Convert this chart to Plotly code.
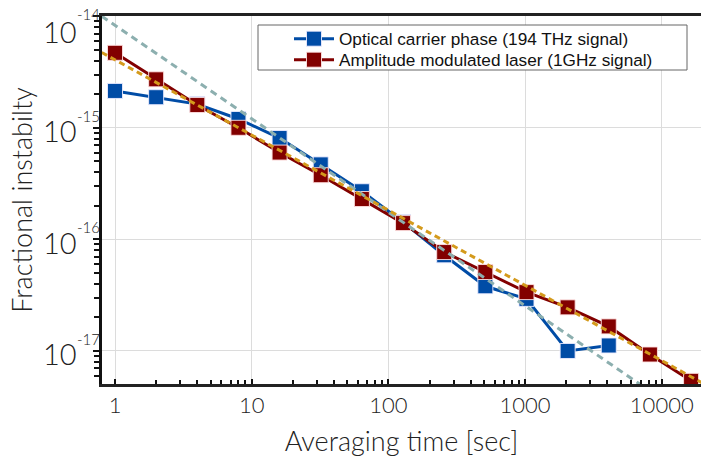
import plotly.graph_objects as go

# ---- data ----
tau_red = [1, 2, 4, 8, 16, 32, 64, 128, 256, 512, 1024, 2048, 4096, 8192, 16384]
adev_red = [4.7e-15, 2.72e-15, 1.6e-15, 1.0e-15, 6.0e-16, 3.76e-16, 2.3e-16, 1.4e-16,
            7.7e-17, 5.1e-17, 3.37e-17, 2.46e-17, 1.66e-17, 9.3e-18, 5.4e-18]
tau_blue = [1, 2, 4, 8, 16, 32, 64, 128, 256, 512, 1024, 2048, 4096]
adev_blue = [2.14e-15, 1.88e-15, 1.63e-15, 1.2e-15, 8.1e-16, 4.7e-16, 2.7e-16, 1.43e-16,
             7.2e-17, 3.8e-17, 2.93e-17, 1.0e-17, 1.12e-17]
teal_x = [0.8, 10000]
teal_y = [1.0e-14, 3.7e-18]
orange_x = [0.8, 20000]
orange_y = [4.73e-15, 5.14e-18]

name_blue = "Optical carrier phase (194 THz signal)"
name_red = "Amplitude modulated laser (1GHz signal)"

x_tickvals = [1, 10, 100, 1000, 10000]
x_ticktext = ["1", "10", "100", "1000", "10000"]
y_exps = [-17, -16, -15, -14]
y_tickvals = [10.0 ** e for e in y_exps]
y_base_text = "10"
y_exp_text = [str(e) for e in y_exps]

x_minor = [m * 10 ** d for d in range(0, 5) for m in range(2, 10)]
y_minor = [m * 10.0 ** d for d in range(-18, -14) for m in range(2, 10)]

BLUE = "#004ca6"
RED = "#820000"
TEAL = "#8cafaf"
ORANGE = "#d49a1c"
FONT = "Lato"
TXT = "#222222"

W, H = 701, 457
L, T, B, R = 102, 16, 73, 0

fig = go.Figure()
fig.add_trace(go.Scatter(
    x=tau_blue, y=adev_blue, name=name_blue, mode="lines+markers", legend="legend",
    line=dict(color=BLUE, width=3),
    marker=dict(symbol="square", size=15, color=BLUE,
                line=dict(color="rgba(235,235,255,0.9)", width=1))))
fig.add_trace(go.Scatter(
    x=tau_red, y=adev_red, name=name_red, mode="lines+markers", legend="legend2",
    line=dict(color=RED, width=3),
    marker=dict(symbol="square", size=15, color=RED,
                line=dict(color="rgba(255,225,225,0.9)", width=1))))
fig.add_trace(go.Scatter(
    x=teal_x, y=teal_y, mode="lines", showlegend=False, hoverinfo="skip",
    line=dict(color=TEAL, width=3, dash="7px,5px")))
fig.add_trace(go.Scatter(
    x=orange_x, y=orange_y, mode="lines", showlegend=False, hoverinfo="skip",
    line=dict(color=ORANGE, width=3, dash="6px,4px")))

pw, ph = W - L - R, H - T - B
def px2paper_x(px):
    return (px - L) / pw
def px2paper_y(py):
    return (H - B - py) / ph

fig.add_shape(type="rect", xref="paper", yref="paper",
              x0=px2paper_x(258), x1=px2paper_x(687),
              y0=px2paper_y(70), y1=px2paper_y(25),
              line=dict(color="#666666", width=1), fillcolor="white", layer="above")

# y tick labels "10" with a small raised exponent (the top one sits lower, as in the reference)
for e, et in zip(y_exps, y_exp_text):
    base_shift, exp_shift = (-15, 2) if e == -14 else (-3, 12)
    fig.add_annotation(xref="paper", yref="y", x=0, y=e, xanchor="right", yanchor="middle",
                       xshift=-24, yshift=base_shift, showarrow=False, text=y_base_text,
                       borderpad=0, font=dict(family=FONT, size=29, color=TXT, weight=300))
    fig.add_annotation(xref="paper", yref="y", x=0, y=e, xanchor="left", yanchor="middle",
                       xshift=-26, yshift=exp_shift, showarrow=False, text=et,
                       borderpad=0, font=dict(family=FONT, size=15, color=TXT, weight=300))

leg_common = dict(xanchor="left", yanchor="middle", bgcolor="rgba(0,0,0,0)", borderwidth=0,
                  font=dict(family="Liberation Sans, Arial", size=17.2, color="#111111",
                            weight="normal"),
                  itemwidth=40)

fig.update_layout(
    width=W, height=H,
    margin=dict(l=L, r=R, t=T, b=B, pad=0, autoexpand=False),
    paper_bgcolor="white", plot_bgcolor="white",
    font=dict(family=FONT, color=TXT, weight=300),
    legend=dict(x=px2paper_x(289), y=px2paper_y(39), **leg_common),
    legend2=dict(x=px2paper_x(289), y=px2paper_y(60), **leg_common),
    showlegend=True,
)

fig.update_xaxes(
    type="log", range=[-0.0951, 4.287], automargin=False,
    tickmode="array", tickvals=x_tickvals, ticktext=x_ticktext,
    tickfont=dict(family=FONT, size=22, color=TXT, weight=300),
    ticks="inside", ticklen=5, tickwidth=1.5, tickcolor="#111111",
    minor=dict(tickmode="array", tickvals=x_minor, ticks="inside", ticklen=4,
               tickwidth=1.5, tickcolor="#111111", showgrid=False),
    showgrid=True, gridcolor="#dcdcdc", gridwidth=1,
    showline=True, linecolor="#222222", linewidth=2.5, mirror=True,
    zeroline=False,
    title=dict(text="Averaging time [sec]",
               font=dict(family=FONT, size=27, color=TXT, weight=300),
               standoff=28),
)
fig.update_yaxes(
    type="log", range=[-17.296, -13.998], automargin=False,
    tickmode="array", tickvals=y_tickvals, showticklabels=False,
    ticks="outside", ticklen=6, tickwidth=1.5, tickcolor="#111111",
    minor=dict(tickmode="array", tickvals=y_minor, ticks="outside", ticklen=5,
               tickwidth=1.5, tickcolor="#111111", showgrid=False),
    showgrid=True, gridcolor="#dcdcdc", gridwidth=1,
    showline=True, linecolor="#111111", linewidth=2.5, mirror=False,
    zeroline=False,
    title=dict(text="Fractional instabilty",
               font=dict(family=FONT, size=27, color=TXT, weight=300),
               standoff=53),
)

fig.write_html("out.html")
